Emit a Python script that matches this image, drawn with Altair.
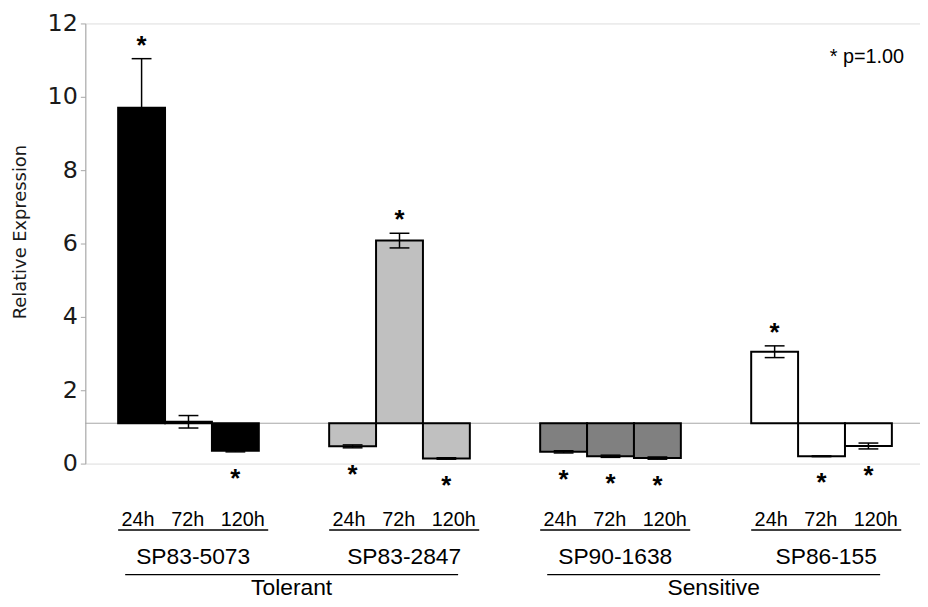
import altair as alt
import pandas as pd

# ---- data ----
groups = ["SP83-5073", "SP83-2847", "SP90-1638", "SP86-155"]
times = ["24h", "72h", "120h"]
categories = ["Tolerant", "Sensitive"]

val_5073 = [9.70, 1.14, 0.35]
val_2847 = [0.47, 6.08, 0.14]
val_1638 = [0.32, 0.20, 0.15]
val_155 = [3.05, 0.20, 0.48]

err_5073 = [1.34, 0.17, 0.03]
err_2847 = [0.04, 0.20, 0.02]
err_1638 = [0.03, 0.03, 0.03]
err_155 = [0.16, 0.01, 0.08]

# significance marks (1 = asterisk shown)
sig_5073 = [1, 0, 1]
sig_2847 = [1, 1, 1]
sig_1638 = [1, 1, 1]
sig_155 = [1, 1, 1]

baseline = 1.1
legend_text = "* p=1.00"

# ---- styles ----
fills = ["#000000", "#c0c0c0", "#808080", "#ffffff"]
FONT = "Liberation Sans"
AXFONT = "DejaVu Sans"
GROUP_STEP = 4.5
W, H = 842, 444
SEP = "\u00a0\u00a0\u00a0"
time_label = SEP.join(times)

values = [val_5073, val_2847, val_1638, val_155]
errors = [err_5073, err_2847, err_1638, err_155]
sigs = [sig_5073, sig_2847, sig_1638, sig_155]

rows = []
for gi, g in enumerate(groups):
    for ti, t in enumerate(times):
        v = values[gi][ti]
        e = errors[gi][ti]
        pos = gi * GROUP_STEP + ti
        up = v > baseline
        rows.append(dict(group=g, time=t, value=v, err=e, pos=pos, pos2=pos + 1,
                         center=pos + 0.5, lo=v - e, hi=v + e,
                         star=sigs[gi][ti], up=up,
                         stary=(v + e) if up else (v - e)))
df = pd.DataFrame(rows)

grp_df = pd.DataFrame({
    "group": groups,
    "start": [gi * GROUP_STEP for gi in range(len(groups))],
})
grp_df["end"] = grp_df["start"] + 3.2
grp_df["center"] = grp_df["start"] + 1.6
grp_df["tl"] = time_label

cat_df = pd.DataFrame({
    "cat": categories,
    "start": [ci * 2 * GROUP_STEP + 0.15 for ci in range(len(categories))],
})
cat_df["end"] = cat_df["start"] + 7.1
cat_df["center"] = cat_df["start"] + 3.55

xs = alt.Scale(domain=[-0.7, 17.1], nice=False, zero=False)
ys = alt.Scale(domain=[0, 12], nice=False)

yaxis = alt.Axis(values=[0, 2, 4, 6, 8, 10, 12], title="Relative Expression",
                 grid=False, labelFontSize=24, labelFont=AXFONT, labelColor="#1a1a1a",
                 labelPadding=3, domainColor="#a6a6a6", tickColor="#a6a6a6",
                 tickSize=5, titleFont=AXFONT, titleFontSize=18,
                 titleFontWeight="normal", titleColor="#1a1a1a",
                 titleAngle=270, titleX=-65, titleY=210,
                 titleAlign="center", titleBaseline="middle")

base_rule = alt.Chart(pd.DataFrame({"b": [baseline]})).mark_rule(
    color="#a6a6a6", strokeWidth=1
).encode(y=alt.Y("b:Q", scale=ys, axis=yaxis), x=alt.value(0), x2=alt.value(W))

bars = alt.Chart(df).mark_bar(stroke="black", strokeWidth=2).encode(
    x=alt.X("pos:Q", scale=xs, axis=None),
    x2="pos2:Q",
    y=alt.Y("value:Q", scale=ys, axis=yaxis),
    y2=alt.datum(baseline),
    fill=alt.Fill("group:N", scale=alt.Scale(domain=groups, range=fills), legend=None),
)

err_line = alt.Chart(df).mark_rule(color="black", strokeWidth=1.5).encode(
    x=alt.X("center:Q", scale=xs), y=alt.Y("lo:Q", scale=ys), y2="hi:Q")
cap_hi = alt.Chart(df).mark_rule(color="black", strokeWidth=1.5, xOffset=-10, x2Offset=10).encode(
    x=alt.X("center:Q", scale=xs), x2="center:Q", y=alt.Y("hi:Q", scale=ys))
cap_lo = alt.Chart(df).mark_rule(color="black", strokeWidth=1.5, xOffset=-10, x2Offset=10).encode(
    x=alt.X("center:Q", scale=xs), x2="center:Q", y=alt.Y("lo:Q", scale=ys))

stars_up = alt.Chart(df).transform_filter(
    (alt.datum.star == 1) & (alt.datum.up == True)
).mark_text(text="*", font=FONT, fontSize=26, fontWeight="bold", baseline="middle",
            dy=-13, color="black").encode(
    x=alt.X("center:Q", scale=xs), y=alt.Y("stary:Q", scale=ys))
stars_dn = alt.Chart(df).transform_filter(
    (alt.datum.star == 1) & (alt.datum.up == False)
).mark_text(text="*", font=FONT, fontSize=26, fontWeight="bold", baseline="middle",
            dy=27, color="black").encode(
    x=alt.X("center:Q", scale=xs), y=alt.Y("stary:Q", scale=ys))

time_txt = alt.Chart(grp_df).mark_text(font=FONT, fontSize=20, baseline="alphabetic", color="black").encode(
    x=alt.X("center:Q", scale=xs), y=alt.value(507), text="tl:N")
time_line = alt.Chart(grp_df).mark_rule(color="black", strokeWidth=1.5).encode(
    x=alt.X("start:Q", scale=xs), x2="end:Q", y=alt.value(511))
grp_txt = alt.Chart(grp_df).mark_text(font=FONT, fontSize=23, baseline="alphabetic", color="black").encode(
    x=alt.X("center:Q", scale=xs), y=alt.value(545), text="group:N")
cat_line = alt.Chart(cat_df).mark_rule(color="black", strokeWidth=1.5).encode(
    x=alt.X("start:Q", scale=xs), x2="end:Q", y=alt.value(556))
cat_txt = alt.Chart(cat_df).mark_text(font=FONT, fontSize=23, baseline="alphabetic", color="black").encode(
    x=alt.X("center:Q", scale=xs), y=alt.value(577), text="cat:N")

legend = alt.Chart(pd.DataFrame({"t": [legend_text]})).mark_text(
    font=FONT, fontSize=20, align="right", baseline="middle", color="black"
).encode(x=alt.value(826), y=alt.value(34), text="t:N")

chart = alt.layer(
    base_rule, bars, err_line, cap_hi, cap_lo, stars_up, stars_dn,
    time_txt, time_line, grp_txt, cat_line, cat_txt, legend
).properties(
    width=W, height=H,
    padding={"left": 78, "top": 13, "right": 0, "bottom": 134},
    autosize=alt.AutoSizeParams(type="none"),
).configure_view(strokeWidth=0).configure(background="white")

chart.save("out.html", embed_options={"renderer": "svg", "actions": False})
